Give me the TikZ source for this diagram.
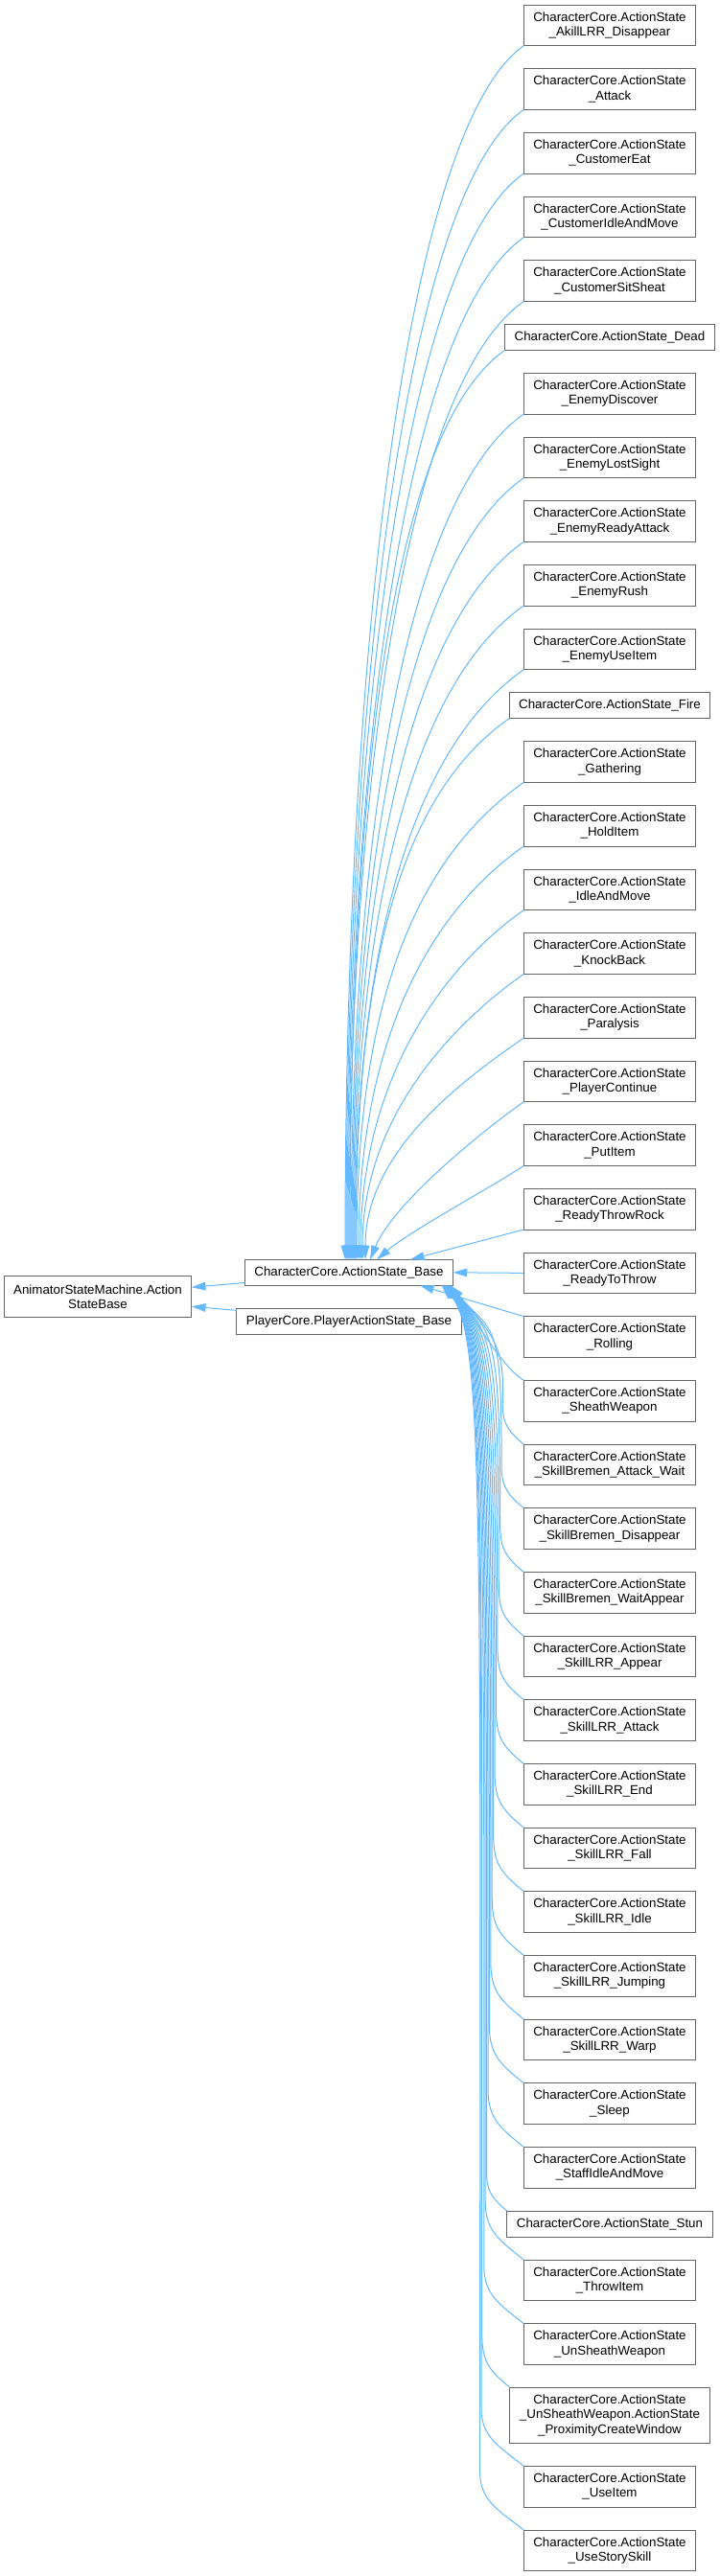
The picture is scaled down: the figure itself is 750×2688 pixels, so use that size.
\documentclass[tikz,border=0pt]{standalone}
\usepackage{fontspec}
\setmainfont{Liberation Sans}
\usetikzlibrary{arrows.meta,positioning}
\definecolor{edgeblue}{HTML}{63B8FF}
\definecolor{boxgray}{HTML}{666666}
\newcommand{\castate}{CharacterCore.ActionState}

\begin{document}
\begin{tikzpicture}[
    x=0.75pt, y=0.75pt, node distance=18pt,
    cls/.style={rectangle, draw=boxgray, fill=white, line width=0.75pt,
                outer sep=0pt, inner xsep=7.5pt, inner ysep=2pt, align=center,
                minimum width=134.25pt, minimum height=32pt,
                font=\fontsize{10}{11.5}\selectfont},
    clsone/.style={cls, minimum width=0pt, minimum height=20.25pt},
    clsthree/.style={cls, minimum height=43.5pt},
    inh/.style={draw=edgeblue, line width=0.75pt,
                -{Triangle[length=11pt, width=6.5pt]}},
]
\useasboundingbox (0,0) rectangle (750,-2688);

% base classes
\node[cls] (asb) at (102,-1353) {AnimatorStateMachine.Action\\StateBase};
\node[clsone] (base) at (364,-1327.8) {\castate\_Base};
\node[clsone] (pbase) at (364,-1378.7) {PlayerCore.PlayerActionState\_Base};

% derived states, one column
\node[cls, anchor=north] (akill) at (636,-5) {\castate\\\_AkillLRR\_Disappear};
\node[cls, below=of akill] (attack) {\castate\\\_Attack};
\node[cls, below=of attack] (custeat) {\castate\\\_CustomerEat};
\node[cls, below=of custeat] (custidle) {\castate\\\_CustomerIdleAndMove};
\node[cls, below=of custidle] (custsit) {\castate\\\_CustomerSitSheat};
\node[clsone, below=of custsit] (dead) {\castate\_Dead};
\node[cls, below=of dead] (ediscover) {\castate\\\_EnemyDiscover};
\node[cls, below=of ediscover] (elost) {\castate\\\_EnemyLostSight};
\node[cls, below=of elost] (eready) {\castate\\\_EnemyReadyAttack};
\node[cls, below=of eready] (erush) {\castate\\\_EnemyRush};
\node[cls, below=of erush] (euse) {\castate\\\_EnemyUseItem};
\node[clsone, below=of euse] (fire) {\castate\_Fire};
\node[cls, below=of fire] (gather) {\castate\\\_Gathering};
\node[cls, below=of gather] (hold) {\castate\\\_HoldItem};
\node[cls, below=of hold] (idle) {\castate\\\_IdleAndMove};
\node[cls, below=of idle] (knock) {\castate\\\_KnockBack};
\node[cls, below=of knock] (para) {\castate\\\_Paralysis};
\node[cls, below=of para] (pcont) {\castate\\\_PlayerContinue};
\node[cls, below=of pcont] (put) {\castate\\\_PutItem};
\node[cls, below=of put] (rthrowrock) {\castate\\\_ReadyThrowRock};
\node[cls, below=of rthrowrock] (rtothrow) {\castate\\\_ReadyToThrow};
\node[cls, below=of rtothrow] (rolling) {\castate\\\_Rolling};
\node[cls, below=of rolling] (sheath) {\castate\\\_SheathWeapon};
\node[cls, below=of sheath] (bratk) {\castate\\\_SkillBremen\_Attack\_Wait};
\node[cls, below=of bratk] (brdis) {\castate\\\_SkillBremen\_Disappear};
\node[cls, below=of brdis] (brwait) {\castate\\\_SkillBremen\_WaitAppear};
\node[cls, below=of brwait] (lrrapp) {\castate\\\_SkillLRR\_Appear};
\node[cls, below=of lrrapp] (lrratk) {\castate\\\_SkillLRR\_Attack};
\node[cls, below=of lrratk] (lrrend) {\castate\\\_SkillLRR\_End};
\node[cls, below=of lrrend] (lrrfall) {\castate\\\_SkillLRR\_Fall};
\node[cls, below=of lrrfall] (lrridle) {\castate\\\_SkillLRR\_Idle};
\node[cls, below=of lrridle] (lrrjump) {\castate\\\_SkillLRR\_Jumping};
\node[cls, below=of lrrjump] (lrrwarp) {\castate\\\_SkillLRR\_Warp};
\node[cls, below=of lrrwarp] (sleep) {\castate\\\_Sleep};
\node[cls, below=of sleep] (staff) {\castate\\\_StaffIdleAndMove};
\node[clsone, below=of staff] (stun) {\castate\_Stun};
\node[cls, below=of stun] (throw) {\castate\\\_ThrowItem};
\node[cls, below=of throw] (unsheath) {\castate\\\_UnSheathWeapon};
\node[clsthree, below=of unsheath] (proxwin)
  {\castate\\\_UnSheathWeapon.ActionState\\\_ProximityCreateWindow};
\node[cls, below=of proxwin] (useitem) {\castate\\\_UseItem};
\node[cls, below=of useitem] (story) {\castate\\\_UseStorySkill};

% to the root
\draw[inh] ([yshift=-8pt]base.west) -- ([yshift=7.3pt]asb.east);
\draw[inh] ([yshift=8.5pt]pbase.west) -- ([yshift=-7.7pt]asb.east);

% states above the base
\foreach \c/\ax/\ay/\bx/\lt/\ex in {
    akill/-122.9/-86.1/0/633/-3, attack/-122.9/-86.1/0/600/-2.25,
    custeat/-122.9/-86.1/0/567/-1.5, custidle/-122.9/-86.1/0/533/-0.75,
    custsit/-122.9/-86.1/0/500/0, dead/-122.9/-86.1/0/475/0.75,
    ediscover/-122.9/-86.1/0/441/1.5, elost/-122.9/-86.1/0/408/2.25,
    eready/-122.9/-86.1/0/375/3, erush/-122.9/-86.1/0/341/3.75,
    euse/-122.9/-86.1/0/308/4.5, fire/-122.9/-86.1/0/282/5.25,
    gather/-122.4/-85.8/0/249/6, hold/-106.1/-74.3/0/216/7.5,
    idle/-89.7/-62.9/0/182/9, knock/-73.3/-51.4/0/149/10.5,
    para/-56.9/-39.9/0/116/12.75, pcont/-40.5/-28.4/25/60/16.5,
    put/-24.2/-16.9/35/30/21.75}
  \draw[inh] (\c.south west) .. controls +(\ax,\ay) and +(\bx,\lt)
    .. ([xshift=\ex pt]base.north);
\draw[inh] (rthrowrock.south west) -- ([xshift=48pt]base.north);
\draw[inh] (rtothrow.west) -- (base.east);
\draw[inh] (rolling.north west) -- ([xshift=-26pt]base.south east);

% states below the base
\draw[inh] (sheath.north west) .. controls +(-25,15) and +(20,-25)
  .. ([xshift=-2pt]base.south east);
\foreach \c/\dx/\lb/\ex in {
    bratk/-21.9/40/-2.5, brdis/-23.3/138/-2.9, brwait/-24.7/191/-3.3,
    lrrapp/-26.1/244/-3.6, lrratk/-27.5/298/-4, lrrend/-28.9/351/-4.4,
    lrrfall/-30.3/404/-4.8, lrridle/-31.7/458/-5.1, lrrjump/-33.1/511/-5.5,
    lrrwarp/-34.5/564/-5.9, sleep/-35.9/617/-6.3, staff/-37.3/671/-6.6,
    stun/-21.2/724/-7, throw/-40.1/765/-7.4, unsheath/-41.5/818/-7.8,
    proxwin/-29.4/872/-8.1, useitem/-44.3/937/-8.5, story/-45.7/990/-8.9}
  \draw[inh] (\c.north west) .. controls +(-25,20) and +(0,-30) .. ++(\dx,60)
    .. controls +(0,\lb) and +(45,-50) .. ([xshift=\ex pt]base.south east);

\end{tikzpicture}
\end{document}
